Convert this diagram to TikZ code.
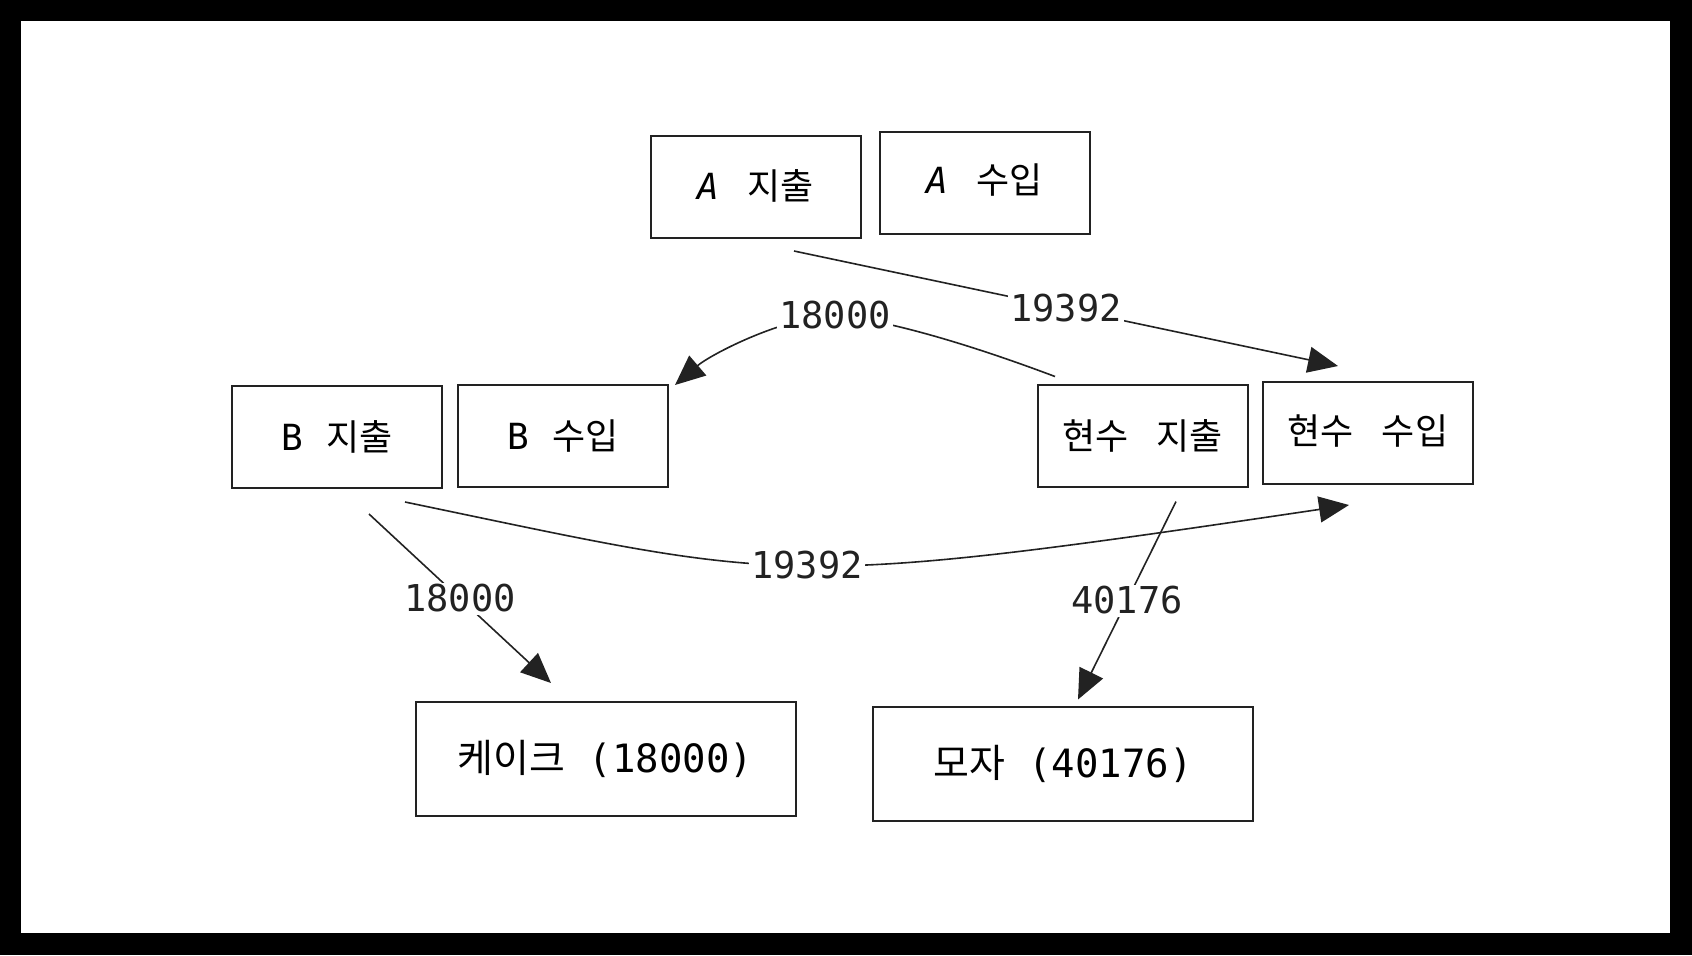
\documentclass[tikz,border=0pt]{standalone}
\usepackage{fontspec}
\newfontfamily\krfont{Noto Sans CJK KR}
\newfontfamily\monofont{DejaVu Sans Mono}
\usetikzlibrary{arrows.meta,calc}
\definecolor{ink}{HTML}{222222}
\newcommand{\gapA}{\hspace{14pt}}
\newcommand{\gapB}{\hspace{12pt}}
\begin{document}
\begin{tikzpicture}[x=0.5pt,y=-0.5pt,
  box/.style={draw=ink,line width=1pt,fill=white,inner sep=0pt,
    minimum width=105pt,minimum height=51pt,
    font=\fontsize{18}{20}\selectfont},
  bigbox/.style={box,minimum width=190pt,minimum height=57pt,
    font=\fontsize{19.5}{22}\selectfont},
  conn/.style={draw=ink,line width=0.8pt,-{Triangle[length=15pt,width=13pt]}},
  lbl/.style={fill=white,inner sep=1pt,text=ink,font=\monofont\fontsize{18.5}{20}\selectfont}]
\fill[black] (0,0) rectangle (1692,955);
\fill[white] (21,21) rectangle (1670,933);
\useasboundingbox (0,0) rectangle (1692,955);
% nodes
\node[box] (aj) at (755.5,187) {\raisebox{2pt}{{\monofont\itshape A}\gapA{\krfont 지출}}};
\node[box] (as) at (984.5,182.5) {\raisebox{4pt}{{\monofont\itshape A}\gapA{\krfont 수입}}};
\node[box] (bj) at (337,437) {{\monofont B}\gapB{\krfont 지출}};
\node[box] (bs) at (563,436) {{\monofont B}\gapB{\krfont 수입}};
\node[box] (hj) at (1142.5,435.5) {{\krfont 현수}\gapA{\krfont 지출}};
\node[box] (hs) at (1368,433) {\raisebox{3pt}{{\krfont 현수}\gapA{\krfont 수입}}};
\node[bigbox] (cake) at (605.5,759) {{\krfont 케이크}{\monofont\ (18000)}};
\node[bigbox] (hat) at (1063,763.5) {{\krfont 모자}{\monofont\ (40176)}};
% connector ends
\coordinate (e1s) at ($(aj.south)+(38.5,12)$);
\coordinate (e1t) at ($(hs.north)+(-30,-15)$);
\coordinate (e2s) at ($(hj.north)+(-87.5,-7)$);
\coordinate (e2t) at ($(bs.north east)+(6,1)$);
\coordinate (e3s) at ($(bj.south)+(68,13)$);
\coordinate (e3t) at ($(hs.south)+(-19,20)$);
\coordinate (e4s) at ($(bj.south)+(32,25)$);
\coordinate (e4t) at ($(cake.north)+(-54.5,-18)$);
\coordinate (e5s) at ($(hj.south)+(33.5,14)$);
\coordinate (e5t) at ($(hat.north)+(15,-6)$);
% connectors
\draw[conn] (e1s) -- node[lbl] {19392} (e1t);
\draw[conn] (e2s) .. controls (990,352) and (900,322) .. (835,315)
  node[lbl] {18000} .. controls (780,318) and (710,355) .. (e2t);
\draw[conn] (e3s) .. controls (790,582) and (777,590) .. node[lbl,pos=0.5] {19392} (e3t);
\draw[conn] (e4s) -- node[lbl] {18000} (e4t);
\draw[conn] (e5s) -- node[lbl] {40176} (e5t);
\end{tikzpicture}
\end{document}
